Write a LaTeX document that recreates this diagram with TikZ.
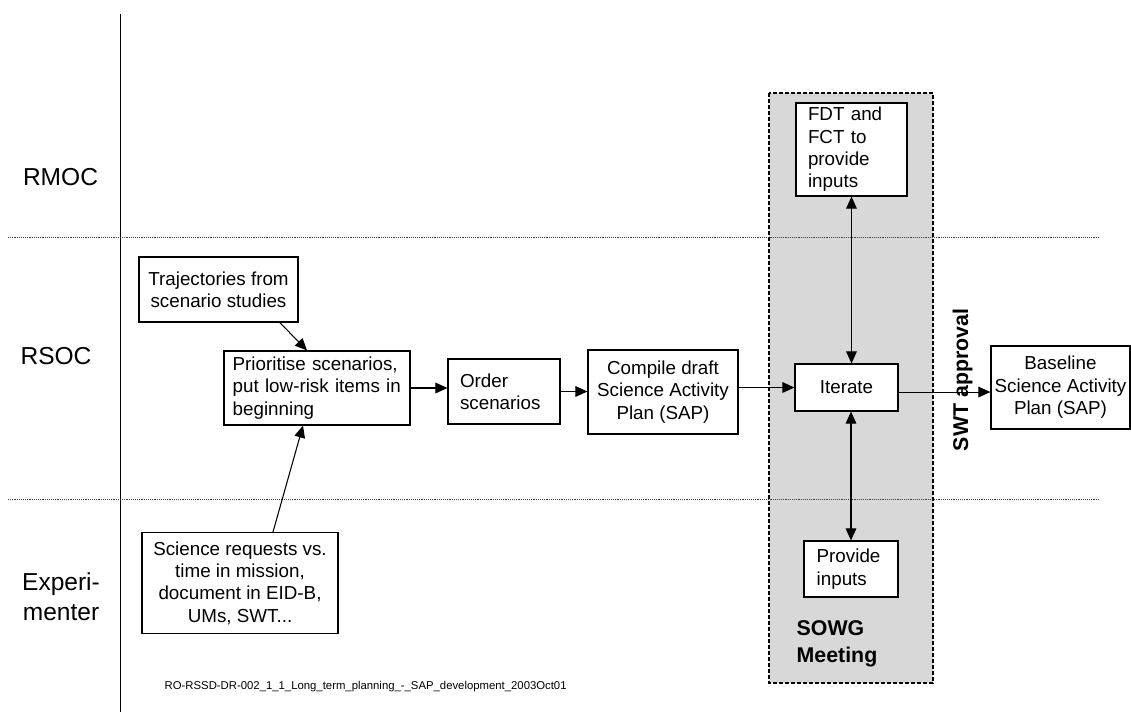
\documentclass[tikz,border=0pt]{standalone}
\usepackage{fontspec}
\setmainfont{Liberation Sans}
\usetikzlibrary{arrows.meta,calc}
\definecolor{sowggray}{RGB}{216,216,216}
\begin{document}
\begin{tikzpicture}[x=0.75pt,y=-0.75pt,
  box/.style={draw, line width=0.9pt, fill=white, inner ysep=0pt, font=\fontsize{14.1}{16.8}\selectfont},
  cbox/.style={box, align=center, inner xsep=1pt},
  lbox/.style={box, align=left},
  arr/.style={line width=0.8pt, -{Triangle[length=9pt,width=8pt]}},
  darr/.style={line width=0.8pt, {Triangle[length=9pt,width=8pt]}-{Triangle[length=9pt,width=8pt]}},
  lane/.style={font=\fontsize{18.4}{22.5}\selectfont, align=center},
  sep/.style={line width=0.6pt, black!75, dash pattern=on 0.7pt off 0.7pt},
  boldlab/.style={font=\fontsize{16}{20}\selectfont\bfseries},
  foot/.style={font=\fontsize{8.5}{10}\selectfont}
]
\useasboundingbox (0,0) rectangle (1131,715);

% SOWG meeting region
\filldraw[fill=sowggray, draw=black, line width=1.1pt, dash pattern=on 3pt off 1.5pt] (769,93) rectangle (933,683);

% lane separators and lane axis
\draw[line width=0.9pt] (120.5,14) -- (120.5,712);
\draw[sep] (8,237) -- (1099,237);
\draw[sep] (8,499) -- (1099,499);

% lane labels
\node[lane] (rmoc) at (60.5,177) {RMOC};
\node[lane] (rsoc) at (56,356) {RSOC};
\node[lane] (expt) at (61,597) {Experi-\\menter};

% boxes
\node[cbox, minimum width=119.25pt, minimum height=48.75pt] (traj) at (218.5,289.5) {Trajectories from\\scenario studies};
\node[lbox, inner xsep=6.5pt, text width=126.5pt, minimum height=55.5pt] (prio) at (317,388) {Prioritise scenarios,\\put low-risk items in\\beginning};
\node[lbox, inner xsep=9pt, text width=66pt, minimum height=48.75pt] (order) at (504,391.5) {Order\\scenarios};
\node[cbox, minimum width=112.5pt, minimum height=63pt] (compile) at (663,392) {Compile draft\\Science Activity\\Plan (SAP)};
\node[cbox, minimum width=77.25pt, minimum height=35.25pt] (iter) at (846.5,387.5) {Iterate};
\node[lbox, inner xsep=9pt, text width=65.25pt, minimum height=69.75pt] (fdt) at (851.5,149.5) {FDT and\\FCT to\\provide\\inputs};
\node[lbox, inner xsep=9.5pt, text width=51.5pt, minimum height=42pt] (prov) at (851,569) {Provide\\inputs};
\node[cbox, minimum width=104.25pt, minimum height=62.25pt] (base) at (1060.5,387.5) {Baseline\\Science Activity\\Plan (SAP)};
\node[cbox, minimum width=147pt, minimum height=75.75pt] (sci) at (240,583) {Science requests vs.\\time in mission,\\document in EID-B,\\UMs, SWT...};

% labels
\node[boldlab, rotate=90] (swt) at (962.5,380) {SWT approval};
\node[boldlab, align=left, anchor=west] (sowg) at (792,643.5) {SOWG\\Meeting};
\node[foot, anchor=west] (footer) at (160,687) {RO-RSSD-DR-002\_1\_1\_Long\_term\_planning\_-\_SAP\_development\_2003Oct01};

% connectors
\draw[arr] ([xshift=46pt]traj.south) -- ([xshift=-7.5pt]prio.north);
\draw[arr] ([xshift=24.75pt]sci.north) -- ([xshift=-10.5pt]prio.south);
\draw[arr] (prio.east) -- (prio.east -| order.west);
\draw[arr] (order.east) -- (order.east -| compile.west);
\draw[arr] (compile.east |- iter.west) -- (iter.west);
\draw[arr] ([yshift=-3.4pt]iter.east) -- ([yshift=-3.4pt]iter.east -| base.west);
\draw[darr] (fdt.south) -- (fdt.south |- iter.north);
\draw[darr] (prov.north |- iter.south) -- (prov.north);
\end{tikzpicture}
\end{document}
